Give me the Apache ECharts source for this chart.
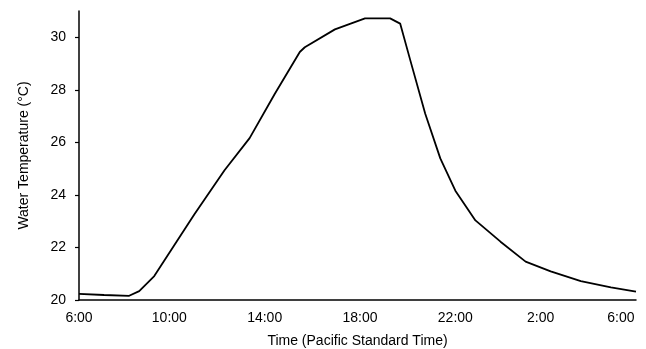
<!DOCTYPE html>
<html>
<head>
<meta charset="utf-8">
<script src="https://cdn.jsdelivr.net/npm/echarts@6/dist/echarts.min.js"></script>
<style>
html,body{margin:0;padding:0;background:#fff;}
#chart{width:646px;height:349px;}
</style>
</head>
<body>
<div id="chart"></div>
<script>
// Sample slots along the time axis (112 slots); tick labels placed at their slot index
const slotCount = 112;
const timeLabels = ['6:00', '10:00', '14:00', '18:00', '22:00', '2:00', '6:00'];
const labelSlots = [0, 18, 37, 56, 75, 92, 108];

// Readings: slot index and water temperature (°C)
const readingSlots = [0, 5, 10, 12, 15, 23, 29, 34, 39, 44, 45, 51, 57, 62, 64, 66, 69, 72, 75, 79, 84, 89, 94, 100, 106, 111];
const temperature = [20.23, 20.19, 20.16, 20.34, 20.91, 23.26, 24.94, 26.16, 27.84, 29.44, 29.62, 30.30, 30.72, 30.72, 30.52, 29.14, 27.09, 25.39, 24.16, 23.03, 22.22, 21.46, 21.09, 20.72, 20.48, 20.32];

const yTicks = [20, 22, 24, 26, 28, 30];

const categories = [];
for (let i = 0; i < slotCount; i++) {
  const k = labelSlots.indexOf(i);
  categories.push(k >= 0 ? timeLabels[k] : '');
}
const seriesData = new Array(slotCount).fill(null);
readingSlots.forEach((s, i) => { seriesData[s] = temperature[i]; });

const chart = echarts.init(document.getElementById('chart'), null, {renderer: 'canvas'});
const font = 'Liberation Sans, Arial, sans-serif';
chart.setOption({
  animation: false,
  backgroundColor: '#ffffff',
  grid: {left: 79, right: 10, top: 11, bottom: 49, containLabel: false, outerBoundsMode: 'none'},
  xAxis: {
    type: 'category',
    data: categories,
    boundaryGap: false,
    name: 'Time (Pacific Standard Time)',
    nameLocation: 'middle',
    nameGap: 34,
    nameTextStyle: {color: '#000', fontSize: 14, fontFamily: font},
    axisLine: {lineStyle: {color: '#000', width: 1.5}},
    axisTick: {show: false},
    axisLabel: {interval: 0, color: '#000', fontSize: 14, fontFamily: font, margin: 11},
    splitLine: {show: false}
  },
  yAxis: {
    type: 'value',
    min: 20,
    max: 31,
    interval: 2,
    name: 'Water Temperature (°C)',
    nameLocation: 'middle',
    nameGap: 48,
    nameTextStyle: {color: '#000', fontSize: 14, fontFamily: font},
    axisLine: {show: true, lineStyle: {color: '#000', width: 1.5}},
    axisTick: {show: true, length: 4, customValues: yTicks, lineStyle: {color: '#000', width: 1.2}},
    axisLabel: {customValues: yTicks, color: '#000', fontSize: 14, fontFamily: font, margin: 13},
    splitLine: {show: false}
  },
  series: [{
    type: 'line',
    data: seriesData,
    connectNulls: true,
    showSymbol: false,
    symbol: 'none',
    lineStyle: {color: '#000', width: 1.8},
    z: 3
  }]
});
</script>
</body>
</html>
